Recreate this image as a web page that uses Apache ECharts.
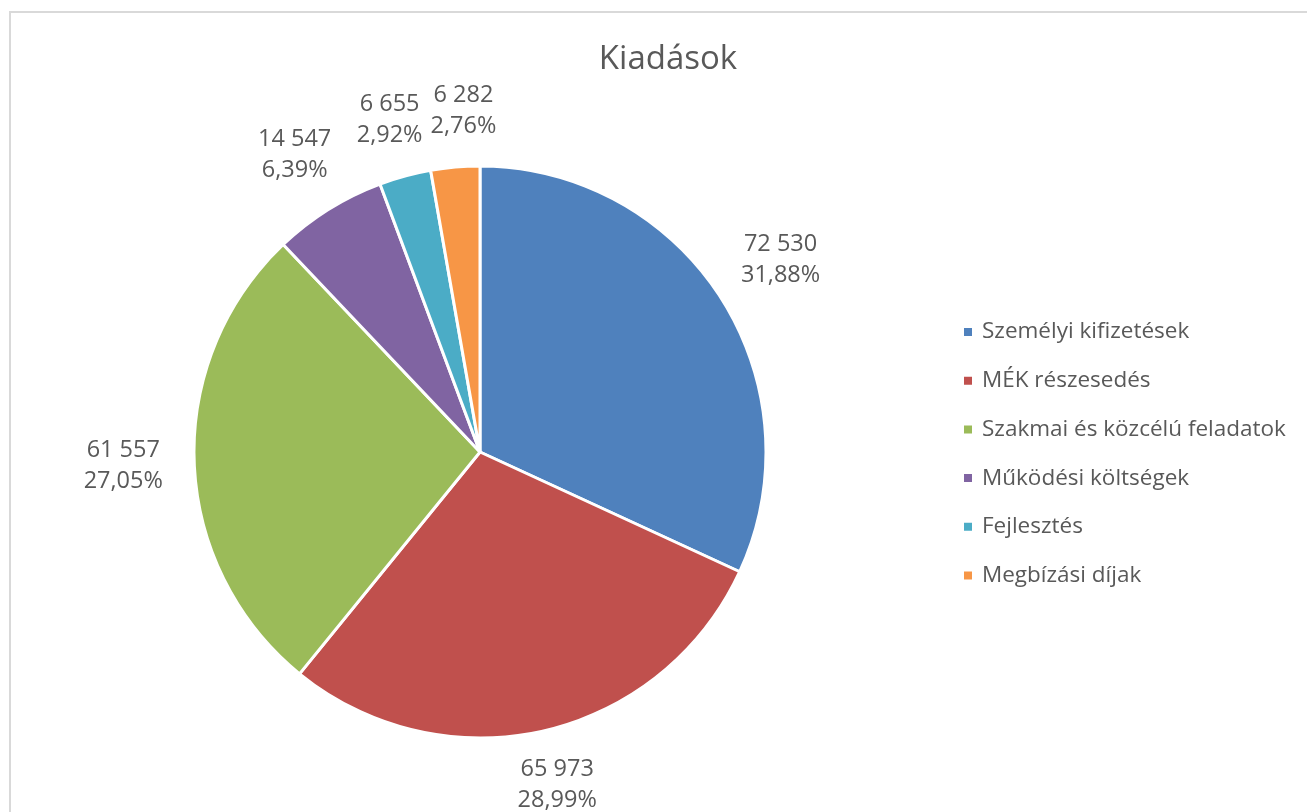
<!DOCTYPE html>
<html>
<head>
<meta charset="utf-8">
<script src="https://cdn.jsdelivr.net/npm/echarts@6/dist/echarts.min.js"></script>
<style>
html,body{margin:0;padding:0;background:#fff;}
#chart{width:1307px;height:812px;}
</style>
</head>
<body>
<div id="chart"></div>
<script>
const categories = ['Személyi kifizetések', 'MÉK részesedés', 'Szakmai és közcélú feladatok', 'Működési költségek', 'Fejlesztés', 'Megbízási díjak'];
const values = [72530, 65973, 61557, 14547, 6655, 6282];
const colors = ['#4F81BD', '#C0504D', '#9BBB59', '#8064A2', '#4BACC6', '#F79646'];
const titleText = 'Kiadások';

const total = values.reduce((a, b) => a + b, 0);
const fmtNum = v => String(v).replace(/\B(?=(\d{3})+(?!\d))/g, ' ');
const fmtPct = v => (v / total * 100).toFixed(2).replace('.', ',') + '%';
const data = categories.map((n, i) => ({ name: n, value: values[i], itemStyle: { color: colors[i] } }));

const CENTER = [480, 452];
const FONT = '"Open Sans", sans-serif';
const chart = echarts.init(document.getElementById('chart'), null, { renderer: 'canvas' });
chart.setOption({
  animation: false,
  backgroundColor: '#ffffff',
  graphic: [{
    type: 'rect', silent: true, z: -10,
    shape: { x: 10, y: 12, width: 1320, height: 820 },
    style: { fill: 'none', stroke: '#d9d9d9', lineWidth: 2 }
  }],
  title: {
    text: titleText, left: 663, top: 38, textAlign: 'center',
    textStyle: { fontFamily: FONT, fontSize: 33, fontWeight: 'normal', color: '#595959' }
  },
  legend: {
    orient: 'vertical', left: 957, top: 315,
    data: categories,
    icon: 'rect', itemWidth: 10, itemHeight: 10, itemGap: 24.7,
    textStyle: { fontFamily: FONT, fontSize: 22.5, color: '#595959', lineHeight: 24, padding: [0, 0, 0, 4] }
  },
  series: [{
    type: 'pie', center: CENTER, radius: [0, 286],
    startAngle: 90, clockwise: true,
    data: data,
    itemStyle: { borderColor: '#ffffff', borderWidth: 3 },
    label: { show: false }, labelLine: { show: false },
    emphasis: { disabled: true }
  }, {
    type: 'pie', center: CENTER, radius: [290, 386],
    startAngle: 90, clockwise: true, silent: true,
    avoidLabelOverlap: false,
    data: data.map(d => ({ name: d.name, value: d.value })),
    itemStyle: { color: 'rgba(0,0,0,0)', borderWidth: 0 },
    label: {
      show: true, position: 'inner', rotate: 0,
      fontFamily: FONT, fontSize: 23.5, color: '#595959', lineHeight: 31, align: 'center',
      padding: [0, 4],
      formatter: p => fmtNum(p.value) + '\n' + fmtPct(p.value)
    },
    labelLayout: function (p) {
      const r = p.labelRect;
      const cx = r.x + r.width / 2, cy = r.y + r.height / 2;
      const vx = cx - CENTER[0], vy = cy - CENTER[1];
      const d = Math.sqrt(vx * vx + vy * vy) || 1;
      const ux = vx / d, uy = vy / d;
      const extra = 16 * ux * ux + 10 * Math.max(0, -uy) * Math.abs(ux);
      const res = { dx: ux * extra, dy: uy * extra, hideOverlap: false };
      if (cy < CENTER[1] - 280) res.moveOverlap = 'shiftX';
      return res;
    },
    labelLine: { show: false },
    emphasis: { disabled: true }
  }]
});
</script>
</body>
</html>
